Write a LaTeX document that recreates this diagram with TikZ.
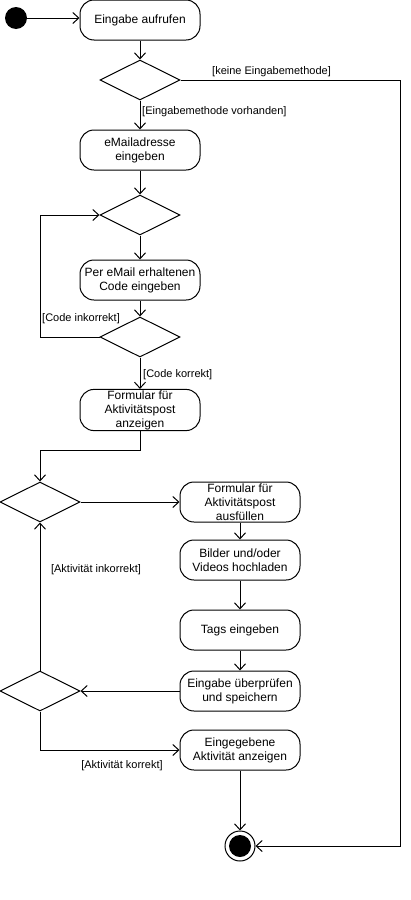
\documentclass[tikz,border=0pt]{standalone}
\usepackage{fontspec}
\setmainfont{Liberation Sans}
\usetikzlibrary{shapes.geometric,arrows.meta}
\begin{document}
\begin{tikzpicture}[x=1pt,y=-1pt,
  act/.style={draw,line width=1pt,rounded corners=14pt,minimum width=120pt,minimum height=40pt,
    inner sep=1pt,align=center,font=\fontsize{12}{14}\selectfont},
  dec/.style={draw,line width=1pt,diamond,aspect=2,inner sep=0pt,minimum width=80pt,minimum height=40pt},
  flow/.style={draw,line width=1pt,-{Straight Barb[length=6pt,width=11pt,line width=1pt]}},
  guard/.style={font=\fontsize{11}{13}\selectfont,inner sep=0pt}]
\useasboundingbox (0,0) rectangle (411,900);

% start and end
\node[circle,fill=black,minimum size=22pt,inner sep=0pt] (start) at (16,18) {};
\node[circle,draw,line width=1pt,minimum size=30pt,inner sep=0pt] (stop) at (240,846) {};
\fill (stop.center) circle (11pt);

% login part
\node[act] (call) at (140,20) {Eingabe aufrufen};
\node[dec] (d1) at (140,80) {};
\node[act] (mail) at (140,150) {eMailadresse\\eingeben};
\node[dec] (d2) at (140,215) {};
\node[act] (code) at (140,280) {Per eMail erhaltenen\\Code eingeben};
\node[dec] (d3) at (140,337) {};
\node[act] (show) at (140,410) {Formular für\\Aktivitätspost\\anzeigen};

% posting part
\node[dec] (d4) at (40,502) {};
\node[act] (fill) at (240,502) {Formular für\\Aktivitätspost\\ausfüllen};
\node[act] (media) at (240,560) {Bilder und/oder\\Videos hochladen};
\node[act] (tags) at (240,630) {Tags eingeben};
\node[act] (check) at (240,691) {Eingabe überprüfen\\und speichern};
\node[dec] (d5) at (40,691) {};
\node[act] (done) at (240,750) {Eingegebene\\Aktivität anzeigen};

% connectors
\draw[flow] (start) -- (call.west |- start);
\draw[flow] (call) -- (d1);
\coordinate (rc) at (400,80);
\draw[flow] (d1.east) -- (rc) |- (stop.east);
\draw[flow] (d1) -- (mail);
\draw[flow] (mail) -- (d2);
\draw[flow] (d2) -- (code);
\draw[flow] (code) -- (d3);
\coordinate (lc) at (40,337);
\draw[flow] (d3.west) -- (lc) |- (d2.west);
\draw[flow] (d3) -- (show);
\coordinate (jc) at (140,450);
\draw[flow] (show.south) -- (jc) -| (d4.north);
\draw[flow] (d4.east) -- (fill.west);
\draw[flow] (fill) -- (media);
\draw[flow] (media) -- (tags);
\draw[flow] (tags) -- (check);
\draw[flow] (check.west) -- (d5.east);
\draw[flow] (d5.north) -- (d4.south);
\draw[flow] (d5.south) |- (done.west);
\draw[flow] (done) -- (stop);

% guards
\node[guard,anchor=west] at (212,72) {[keine Eingabemethode]};
\node[guard,anchor=west] at (142,112) {[Eingabemethode vorhanden]};
\node[guard,anchor=west] at (42,319) {[Code inkorrekt]};
\node[guard,anchor=west] at (143,375) {[Code korrekt]};
\node[guard] at (96,570) {[Aktivität inkorrekt]};
\node[guard] at (122,766) {[Aktivität korrekt]};
\end{tikzpicture}
\end{document}
